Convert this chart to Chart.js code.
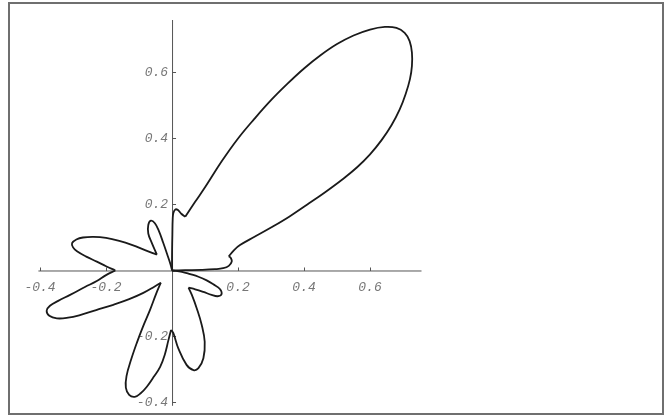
<!DOCTYPE html>
<html>
<head>
<meta charset="utf-8">
<title>Polar lobe pattern</title>
<script src="https://cdn.jsdelivr.net/npm/chart.js@4.4.1/dist/chart.umd.min.js"></script>
<style>
  html, body { margin: 0; padding: 0; background: #fff; }
  #wrap { position: relative; width: 669px; height: 418px; }
</style>
</head>
<body>
<div id="wrap"><canvas id="c" width="669" height="418"></canvas></div>
<script>
// Tick values along each axis
const xTicks = [-0.4, -0.2, 0.2, 0.4, 0.6];
const yTicks = [-0.4, -0.2, 0.2, 0.4, 0.6];

// Curve arcs, traced lobe by lobe (x, y), joined end to end
const mainBase = [
  [0, 0], [0.04, 0.001], [0.09, 0.002], [0.13, 0.004], [0.155, 0.007],
  [0.172, 0.014], [0.181, 0.027], [0.178, 0.038], [0.172, 0.043]
];
const mainLobe = [
  [0.172, 0.043], [0.188, 0.062], [0.206, 0.077], [0.25, 0.102], [0.30, 0.13],
  [0.355, 0.163], [0.41, 0.2], [0.465, 0.238], [0.515, 0.275], [0.56, 0.312],
  [0.60, 0.352], [0.635, 0.395], [0.665, 0.44], [0.69, 0.488], [0.708, 0.535],
  [0.721, 0.58], [0.727, 0.62], [0.727, 0.66], [0.72, 0.695], [0.705, 0.72],
  [0.68, 0.735], [0.645, 0.738], [0.60, 0.73], [0.55, 0.712], [0.50, 0.686],
  [0.45, 0.652], [0.40, 0.612], [0.35, 0.566], [0.30, 0.516], [0.25, 0.46],
  [0.20, 0.40], [0.15, 0.33], [0.10, 0.252], [0.07, 0.208], [0.04, 0.163]
];
const mainShoulder = [
  [0.04, 0.163], [0.028, 0.172], [0.018, 0.183], [0.01, 0.185], [0.004, 0.174],
  [0.002, 0.156], [0.001, 0.11], [0, 0.05], [0, 0]
];
const upperPetal = [
  [0, 0], [-0.005, 0.02], [-0.015, 0.05], [-0.027, 0.085], [-0.04, 0.12],
  [-0.052, 0.143], [-0.064, 0.151], [-0.072, 0.138], [-0.072, 0.112],
  [-0.062, 0.085], [-0.046, 0.048]
];
const upperLeftPetal = [
  [-0.046, 0.048], [-0.08, 0.061], [-0.12, 0.077], [-0.16, 0.09], [-0.2, 0.099],
  [-0.238, 0.102], [-0.27, 0.1], [-0.29, 0.094], [-0.303, 0.083], [-0.3, 0.07],
  [-0.288, 0.058], [-0.26, 0.042], [-0.228, 0.027], [-0.2, 0.013], [-0.172, 0]
];
const lowerLeftPetal = [
  [-0.172, 0], [-0.2, -0.014], [-0.228, -0.032], [-0.264, -0.05], [-0.309, -0.074],
  [-0.345, -0.092], [-0.37, -0.107], [-0.38, -0.122], [-0.372, -0.137],
  [-0.349, -0.145], [-0.315, -0.143], [-0.279, -0.135], [-0.23, -0.12],
  [-0.178, -0.104], [-0.13, -0.087], [-0.087, -0.068], [-0.055, -0.05], [-0.034, -0.037]
];
const bottomLeftPetal = [
  [-0.034, -0.037], [-0.048, -0.07], [-0.067, -0.12], [-0.088, -0.17], [-0.107, -0.22],
  [-0.124, -0.27], [-0.138, -0.32], [-0.14, -0.355], [-0.13, -0.377], [-0.113, -0.383],
  [-0.095, -0.372], [-0.077, -0.353], [-0.056, -0.323], [-0.036, -0.292],
  [-0.022, -0.255], [-0.011, -0.211], [-0.003, -0.18]
];
const bottomRightPetal = [
  [-0.003, -0.18], [0.004, -0.19], [0.019, -0.236], [0.044, -0.286], [0.065, -0.302],
  [0.08, -0.296], [0.095, -0.266], [0.099, -0.216], [0.09, -0.165], [0.075, -0.115],
  [0.06, -0.074], [0.05, -0.052]
];
const lowerRightPetal = [
  [0.05, -0.052], [0.07, -0.057], [0.095, -0.065], [0.12, -0.074], [0.138, -0.078],
  [0.15, -0.072], [0.145, -0.056], [0.125, -0.042], [0.105, -0.03], [0.08, -0.019],
  [0.055, -0.011], [0.03, -0.004], [0, 0]
];

const arcs = [mainBase, mainLobe, mainShoulder, upperPetal, upperLeftPetal,
              lowerLeftPetal, bottomLeftPetal, bottomRightPetal, lowerRightPetal];

// Frame around the whole figure
const framePlugin = {
  id: 'frame',
  beforeDraw(chart) {
    const ctx = chart.ctx;
    ctx.save();
    ctx.fillStyle = '#ffffff';
    ctx.fillRect(0, 0, chart.width, chart.height);
    ctx.strokeStyle = '#6f6f6f';
    ctx.lineWidth = 2;
    ctx.strokeRect(9, 3, 654, 411);
    ctx.restore();
  }
};

// Axes crossing at the origin, with ticks and labels
const crossAxesPlugin = {
  id: 'crossAxes',
  beforeDatasetsDraw(chart) {
    const ctx = chart.ctx;
    const xs = chart.scales.x, ys = chart.scales.y;
    const x0 = xs.getPixelForValue(0), y0 = ys.getPixelForValue(0);
    ctx.save();
    ctx.strokeStyle = '#555';
    ctx.lineWidth = 1;
    ctx.beginPath();
    ctx.moveTo(xs.left, y0 + 0.5); ctx.lineTo(xs.right, y0 + 0.5);
    ctx.moveTo(x0 + 0.5, ys.top); ctx.lineTo(x0 + 0.5, ys.bottom);
    ctx.stroke();

    ctx.beginPath();
    xTicks.forEach(v => {
      const p = Math.round(xs.getPixelForValue(v)) + 0.5;
      ctx.moveTo(p, y0 + 0.5); ctx.lineTo(p, y0 - 3);
    });
    yTicks.forEach(v => {
      const p = Math.round(ys.getPixelForValue(v)) + 0.5;
      ctx.moveTo(x0 + 0.5, p); ctx.lineTo(x0 + 4, p);
    });
    ctx.stroke();

    ctx.fillStyle = '#777';
    ctx.font = 'italic 13px "Liberation Mono", "DejaVu Sans Mono", monospace';
    ctx.textAlign = 'center';
    ctx.textBaseline = 'middle';
    xTicks.forEach(v => {
      ctx.fillText(v.toFixed(1), xs.getPixelForValue(v), y0 + 17);
    });
    ctx.textAlign = 'right';
    yTicks.forEach(v => {
      ctx.fillText(v.toFixed(1), x0 - 4, ys.getPixelForValue(v));
    });
    ctx.restore();
  }
};

new Chart(document.getElementById('c'), {
  type: 'scatter',
  data: {
    datasets: arcs.map(a => ({
      data: a,
      showLine: true,
      tension: 0.4,
      borderColor: '#1a1a1a',
      borderWidth: 1.8,
      pointRadius: 0,
      pointHoverRadius: 0,
      fill: false,
      clip: false
    }))
  },
  options: {
    responsive: false,
    animation: false,
    events: [],
    layout: { padding: { left: 38.4, top: 20, right: 247.5, bottom: 12.2 } },
    plugins: { legend: { display: false }, tooltip: { enabled: false } },
    scales: {
      x: { type: 'linear', min: -0.405, max: 0.756, display: false },
      y: { type: 'linear', min: -0.41, max: 0.759, display: false }
    }
  },
  plugins: [framePlugin, crossAxesPlugin]
});
</script>
</body>
</html>
